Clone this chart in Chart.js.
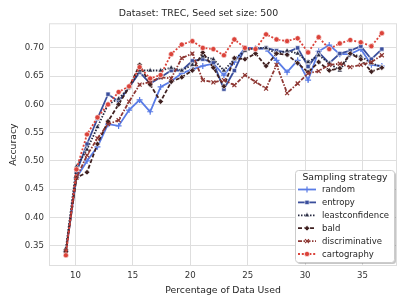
<!DOCTYPE html>
<html>
<head>
<meta charset="utf-8">
<script src="https://cdn.jsdelivr.net/npm/chart.js@4.4.1/dist/chart.umd.min.js"></script>
<style>
  html, body { margin: 0; padding: 0; background: #fff; }
  #wrap { width: 407px; height: 305px; }
</style>
</head>
<body>
<div id="wrap"><canvas id="accChart" width="407" height="305"></canvas></div>
<script>
// percentage of training data used (x)
const pct = [9.17, 10.09, 11.01, 11.92, 12.84, 13.76, 14.67, 15.59, 16.51, 17.42, 18.34, 19.26, 20.18, 21.09, 22.01,
  22.93, 23.84, 24.76, 25.68, 26.60, 27.51, 28.43, 29.35, 30.26, 31.18, 32.10, 33.02, 33.93, 34.85, 35.77, 36.68];

const random = [0.340, 0.470, 0.500, 0.525, 0.565, 0.562, 0.590, 0.608, 0.587, 0.631, 0.641, 0.655, 0.662, 0.668, 0.672,
  0.652, 0.675, 0.700, 0.700, 0.698, 0.678, 0.657, 0.678, 0.643, 0.694, 0.705, 0.689, 0.689, 0.698, 0.670, 0.668];
const entropy = [0.340, 0.480, 0.530, 0.575, 0.618, 0.605, 0.630, 0.657, 0.637, 0.648, 0.660, 0.660, 0.677, 0.680, 0.674,
  0.627, 0.660, 0.700, 0.698, 0.700, 0.695, 0.692, 0.700, 0.667, 0.692, 0.673, 0.690, 0.695, 0.703, 0.680, 0.698];
const leastconfidence = [0.345, 0.490, 0.520, 0.560, 0.600, 0.610, 0.630, 0.660, 0.660, 0.660, 0.665, 0.660, 0.670, 0.685, 0.680,
  0.660, 0.680, 0.695, 0.700, 0.700, 0.690, 0.695, 0.690, 0.675, 0.687, 0.673, 0.660, 0.689, 0.685, 0.673, 0.666];
const bald = [0.340, 0.470, 0.480, 0.530, 0.570, 0.600, 0.630, 0.670, 0.635, 0.605, 0.640, 0.648, 0.660, 0.692, 0.665,
  0.632, 0.682, 0.680, 0.690, 0.668, 0.690, 0.688, 0.673, 0.657, 0.675, 0.660, 0.664, 0.690, 0.680, 0.658, 0.665];
const discriminative = [0.340, 0.470, 0.510, 0.540, 0.565, 0.572, 0.605, 0.635, 0.640, 0.648, 0.646, 0.682, 0.690, 0.643, 0.639,
  0.643, 0.634, 0.652, 0.640, 0.628, 0.670, 0.620, 0.637, 0.655, 0.659, 0.670, 0.672, 0.666, 0.670, 0.675, 0.687];
const cartography = [0.333, 0.485, 0.547, 0.577, 0.600, 0.622, 0.632, 0.666, 0.646, 0.652, 0.689, 0.706, 0.712, 0.700, 0.698,
  0.687, 0.715, 0.700, 0.698, 0.724, 0.715, 0.712, 0.717, 0.692, 0.719, 0.698, 0.708, 0.714, 0.710, 0.703, 0.726];

const xTicks = [10, 15, 20, 25, 30, 35];
const yTicks = [0.35, 0.40, 0.45, 0.50, 0.55, 0.60, 0.65, 0.70];

const FONT = "'DejaVu Sans', sans-serif";
const GRID = '#dedede';

const series = [
  { label: 'random', data: random, color: '#5a7ce6', dash: [], point: 'cross', r: 3 },
  { label: 'entropy', data: entropy, color: '#3a4e9c', dash: [], point: 'rect', r: 3 },
  { label: 'leastconfidence', data: leastconfidence, color: '#252840', dash: [1.5, 1.5], point: 'triangle', r: 3 },
  { label: 'bald', data: bald, color: '#3f2020', dash: [4, 2], point: 'rectRot', r: 2.8 },
  { label: 'discriminative', data: discriminative, color: '#8e3733', dash: [4, 1.5, 1.5, 1.5], point: 'crossRot', r: 2.8 },
  { label: 'cartography', data: cartography, color: '#db433a', dash: [2, 1.8], point: 'circle', r: 2.6 }
];

const isLineMarker = s => s.point === 'cross' || s.point === 'crossRot';

const datasets = series.map((s, i) => ({
  label: s.label,
  data: pct.map((x, j) => ({ x: x, y: s.data[j] })),
  borderColor: s.color,
  borderWidth: 1.8,
  borderDash: s.dash,
  pointStyle: s.point,
  pointRadius: s.r,
  pointBackgroundColor: s.color,
  pointBorderColor: isLineMarker(s) ? s.color : '#ffffff',
  pointBorderWidth: isLineMarker(s) ? 1.2 : 0.6,
  tension: 0,
  order: series.length - i
}));

// plot frame (all four sides) under the lines
const framePlugin = {
  id: 'frame',
  beforeDatasetsDraw(chart) {
    const a = chart.chartArea, ctx = chart.ctx;
    ctx.save();
    ctx.strokeStyle = GRID;
    ctx.lineWidth = 1;
    ctx.strokeRect(a.left + 0.5, a.top + 0.5, a.right - a.left - 1, a.bottom - a.top - 1);
    ctx.restore();
  }
};

// legend box inside the plot, lower right
const legendPlugin = {
  id: 'boxLegend',
  afterDraw(chart) {
    const ctx = chart.ctx;
    const bx = 295, by = 170, bw = 99, bh = 92;
    ctx.save();
    ctx.fillStyle = 'rgba(0,0,0,0.22)';
    ctx.beginPath();
    ctx.roundRect(bx + 2, by + 2, bw, bh, 3);
    ctx.fill();
    ctx.fillStyle = '#ffffff';
    ctx.strokeStyle = '#cccccc';
    ctx.lineWidth = 1;
    ctx.beginPath();
    ctx.roundRect(bx + 0.5, by + 0.5, bw, bh, 3);
    ctx.fill();
    ctx.stroke();

    ctx.fillStyle = '#262626';
    ctx.font = '9.3px ' + FONT;
    ctx.textAlign = 'center';
    ctx.textBaseline = 'middle';
    ctx.fillText('Sampling strategy', bx + bw / 2 + 0.5, by + 8);

    ctx.font = '8.5px ' + FONT;
    ctx.textAlign = 'left';
    series.forEach((s, i) => {
      const y = by + 19.5 + i * 12.9;
      ctx.strokeStyle = s.color;
      ctx.lineWidth = 1.8;
      ctx.setLineDash(s.dash);
      ctx.beginPath();
      ctx.moveTo(298, y);
      ctx.lineTo(316, y);
      ctx.stroke();
      ctx.setLineDash([]);
      ctx.fillStyle = s.color;
      ctx.strokeStyle = isLineMarker(s) ? s.color : '#ffffff';
      ctx.lineWidth = isLineMarker(s) ? 1.2 : 0.6;
      Chart.helpers.drawPoint(ctx, { pointStyle: s.point, radius: s.r, rotation: 0, borderWidth: ctx.lineWidth }, 307, y);
      ctx.fillStyle = '#262626';
      ctx.fillText(s.label, 322, y + 0.5);
    });
    ctx.restore();
  }
};

new Chart(document.getElementById('accChart').getContext('2d'), {
  type: 'line',
  data: { datasets: datasets },
  options: {
    responsive: false,
    animation: false,
    layout: { padding: { left: 0, right: 10, top: 0, bottom: 0 } },
    plugins: {
      legend: { display: false },
      tooltip: { enabled: false },
      title: {
        display: true,
        text: 'Dataset: TREC, Seed set size: 500',
        color: '#262626',
        font: { family: FONT, size: 9.4, weight: 'normal' },
        padding: { top: 8, bottom: 4 }
      }
    },
    scales: {
      x: {
        type: 'linear',
        min: 7.7,
        max: 38.0,
        afterBuildTicks: axis => { axis.ticks = xTicks.map(v => ({ value: v })); },
        afterFit: axis => { axis.height = 39; },
        ticks: { color: '#333333', font: { family: FONT, size: 8.6 }, padding: 5, maxRotation: 0 },
        grid: { color: GRID, lineWidth: 1, drawTicks: false },
        border: { display: false },
        title: {
          display: true,
          text: 'Percentage of Data Used',
          color: '#262626',
          font: { family: FONT, size: 9.3 },
          padding: { top: 0, bottom: 9 }
        }
      },
      y: {
        min: 0.314,
        max: 0.7436,
        afterBuildTicks: axis => { axis.ticks = yTicks.map(v => ({ value: v })); },
        afterFit: axis => { axis.width = 49; },
        ticks: {
          color: '#333333',
          font: { family: FONT, size: 8.6 },
          padding: 5,
          callback: v => v.toFixed(2)
        },
        grid: { color: GRID, lineWidth: 1, drawTicks: false },
        border: { display: false },
        title: {
          display: true,
          text: 'Accuracy',
          color: '#262626',
          font: { family: FONT, size: 9.3 },
          padding: { top: 8, bottom: 0 }
        }
      }
    }
  },
  plugins: [framePlugin, legendPlugin]
});
</script>
</body>
</html>
